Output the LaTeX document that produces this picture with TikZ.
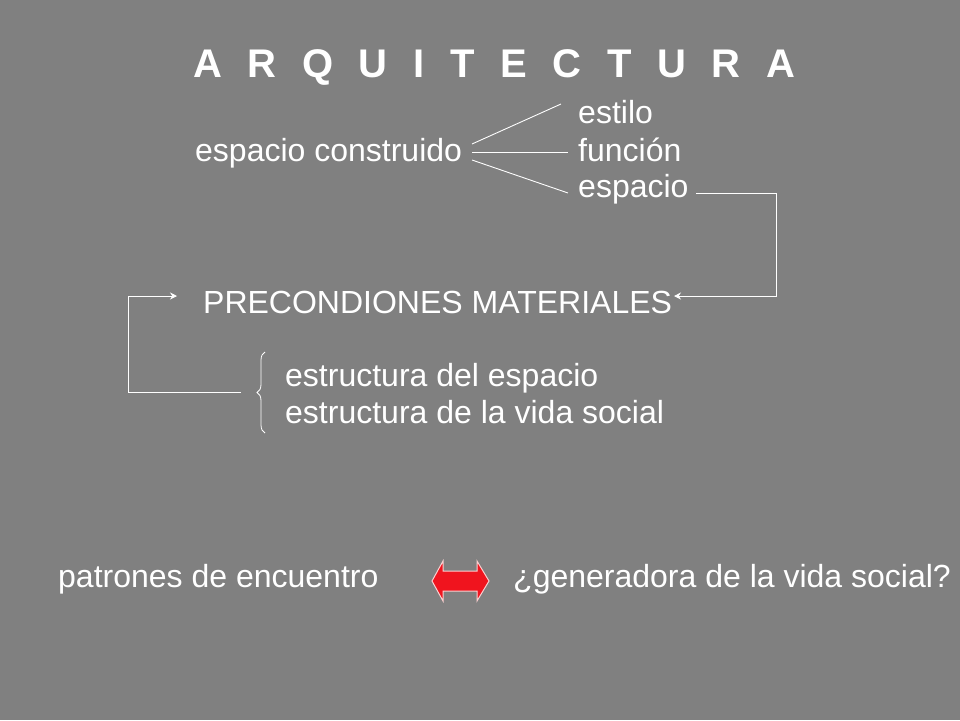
\documentclass[tikz,border=0pt]{standalone}
\usepackage{fontspec}
\setmainfont{Liberation Sans}
\usetikzlibrary{arrows.meta,decorations.pathreplacing}
\tikzset{
  txt/.style={text=white,anchor=base west,inner sep=0pt,font=\fontsize{32}{38}\selectfont},
  ttl/.style={text=white,anchor=base west,inner sep=0pt,font=\fontsize{40}{48}\selectfont\bfseries},
  wline/.style={draw=white,line width=0.9pt},
  warrow/.style={wline,-{Stealth[length=7pt,width=7pt]}},
}
\begin{document}
\begin{tikzpicture}[x=1pt,y=-1pt]
\fill[fill={rgb,255:red,128;green,128;blue,128}] (0,0) rectangle (960,720);
\useasboundingbox (0,0) rectangle (960,720);
\node[ttl] (title) at (193,77) {\makebox[602pt][s]{A\hfill R\hfill Q\hfill U\hfill I\hfill T\hfill E\hfill C\hfill T\hfill U\hfill R\hfill A}};
\node[txt] (ec) at (195,161) {espacio construido};
\node[txt] (est) at (578,123) {estilo};
\node[txt] (fun) at (578,161) {función};
\node[txt] (esp) at (578,197) {espacio};
\node[txt] (pre) at (203,313) {PRECONDIONES MATERIALES};
\node[txt] (s1) at (285,386) {estructura del espacio};
\node[txt] (s2) at (285,423) {estructura de la vida social};
\node[txt] (pat) at (58,587) {patrones de encuentro};
\node[txt] (gen) at (513,587) {¿generadora de la vida social?};
% fan lines
\coordinate (f1) at (472,144);
\coordinate (f2) at (472,152);
\coordinate (f3) at (472,160);
\coordinate (e1) at (561,104);
\coordinate (e2) at (568,152);
\coordinate (e3) at (568,193);
\draw[wline] (f1) -- (e1);
\draw[wline] (f2) -- (e2);
\draw[wline] (f3) -- (e3);
% connector espacio -> PRECONDIONES
\coordinate (c1) at (696,193);
\coordinate (c2) at (674,296);
\draw[warrow] (c1) -- (776,193) -- (776,296) -- (c2);
% connector brace -> PRECONDIONES
\coordinate (d1) at (241,392);
\coordinate (d2) at (177,296);
\draw[warrow] (d1) -- (128,392) -- (128,296) -- (d2);
% brace
\coordinate (b1) at (265,433);
\coordinate (b2) at (265,352);
\draw[draw=white,line width=0.8pt,decorate,decoration={brace,amplitude=8pt}] (b1) -- (b2);
% red double arrow
\filldraw[fill={rgb,255:red,240;green,20;blue,30},draw={rgb,255:red,250;green,210;blue,210},line width=1pt,line join=miter]
 (432,581) -- (443,561) -- (443,571) -- (477,571) -- (477,561) -- (489,581) -- (477,601) -- (477,591) -- (443,591) -- (443,601) -- cycle;
\end{tikzpicture}
\end{document}
